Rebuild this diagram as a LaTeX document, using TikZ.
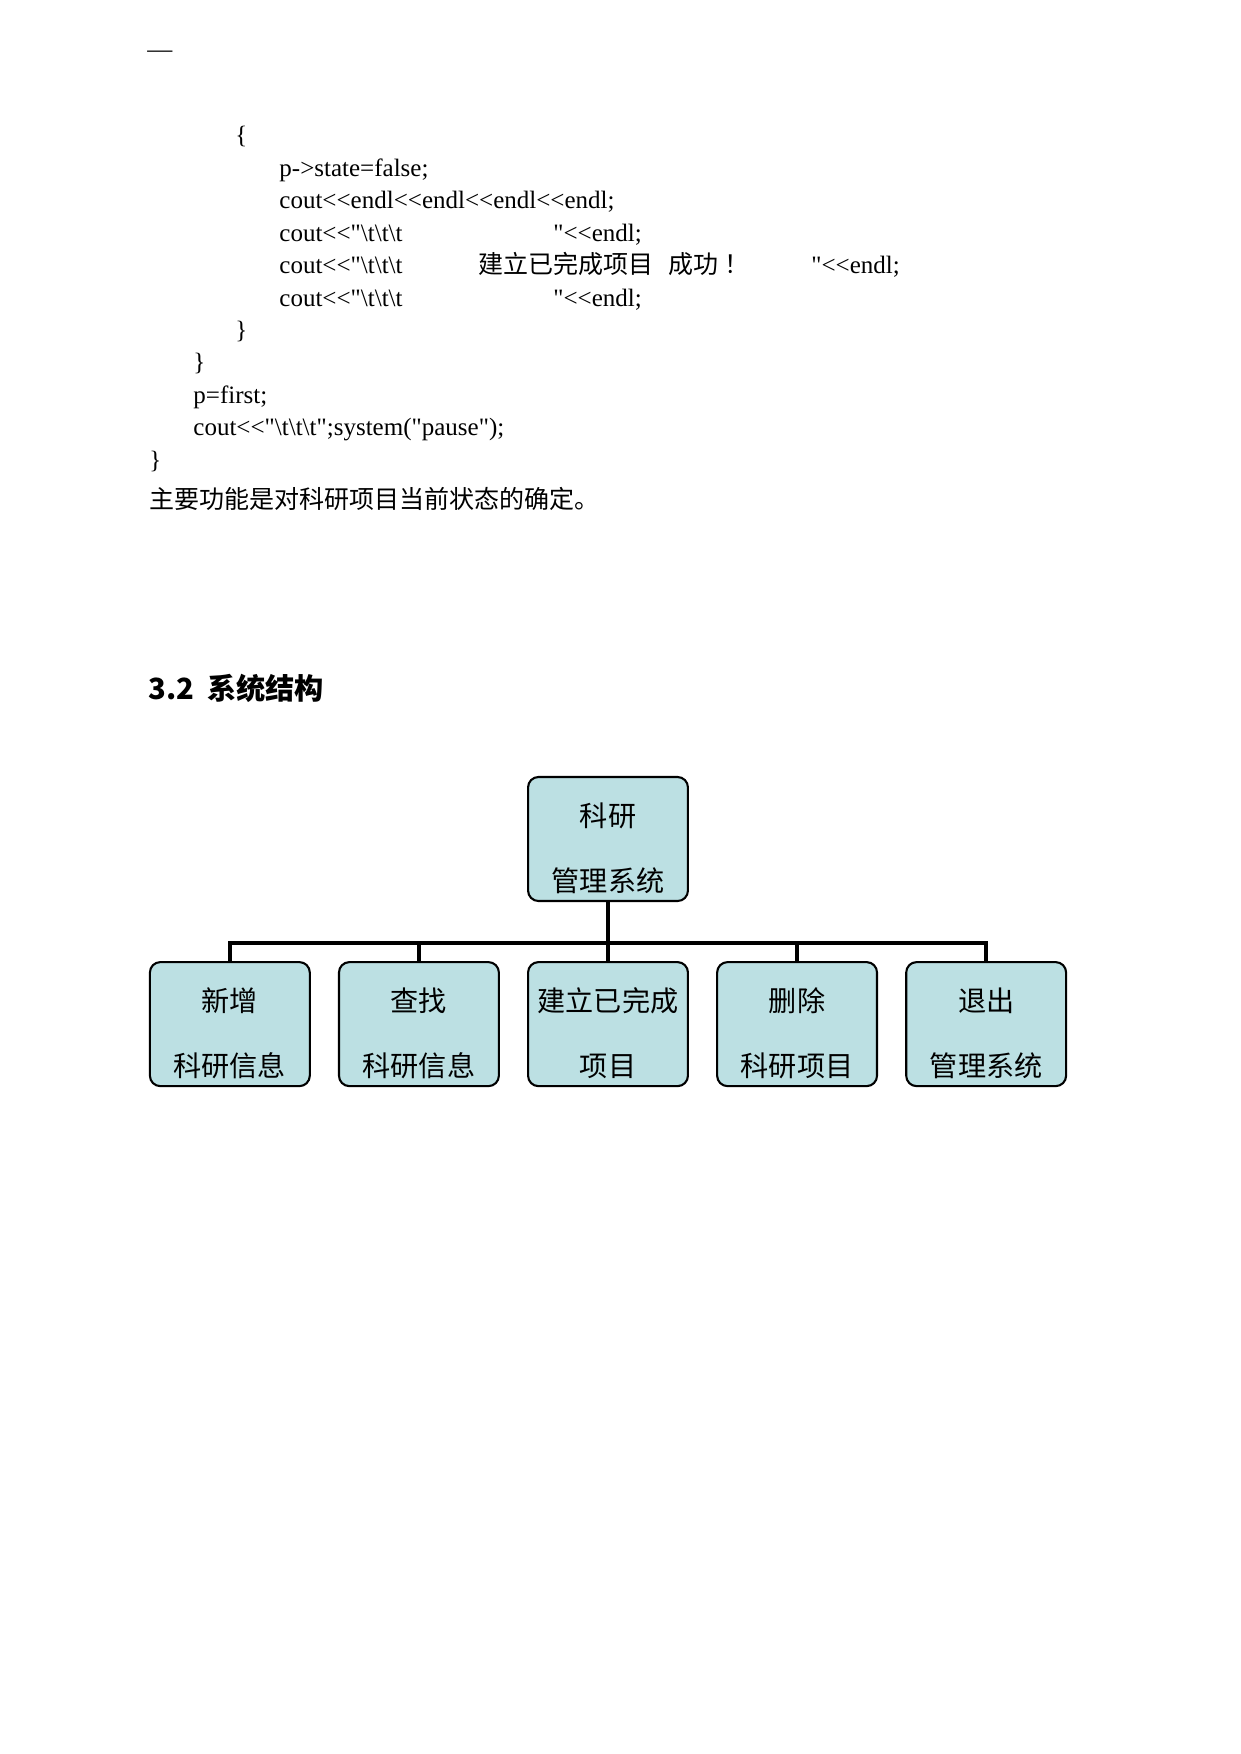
\documentclass[tikz,border=0pt]{standalone}
\usepackage{fontspec}
\setmainfont{Liberation Serif}[Ligatures=TeXOff]
\newfontfamily\cjk{Noto Sans CJK SC}
\usetikzlibrary{positioning}
\definecolor{boxfill}{RGB}{188,224,227}
\tikzset{
  orgnode/.style= {
    rectangle,
    rounded corners=5pt,
    draw = black,
    fill = boxfill,
    line width = 1pt,
    minimum width = 76.7pt,
    minimum height = 59.5pt,
    inner xsep = 2pt,
    inner ysep = 0pt,
    align = center,
    text height = 52pt,
    text depth = 2pt,
    font = \cjk\fontsize{13.5pt}{31pt}\selectfont
  },
  codeline/.style= {
    anchor = base west,
    inner sep = 0pt,
    font = \fontsize{12pt}{14pt}\selectfont
  },
  cjkline/.style= {
    codeline,
    font = \cjk\fontsize{12pt}{14pt}\selectfont
  },
  heading/.style= {
    anchor = base west,
    inner sep = 0pt,
    font = \cjk\bfseries\fontsize{14pt}{17pt}\selectfont
  },
  bus/.style= {
    line width = 2pt
  }
}
\newcommand{\tabs}{\textbackslash t\textbackslash t\textbackslash t}

\begin{document}
\begin{tikzpicture}[x=0.4797pt,y=-0.4797pt]
  \useasboundingbox (0,0) rectangle (1241,1754);

  \node[codeline] (dash) at (147,57.5) {—};
  \node[codeline] (open) at (235,144) {\{};
  \node[codeline] (state) at (279,176.4) {p->state=false;};
  \node[codeline] (endls) at (279,208.8) {cout<<endl<<endl<<endl<<endl;};
  \node[codeline] (outa) at (279,241.2) {cout<<"\tabs};
  \node[codeline] (enda) at (553,241.2) {"<<endl;};
  \node[codeline] (outb) at (279,273.6) {cout<<"\tabs};
  \node[cjkline] (msg) at (478,273.6) {建立已完成项目};
  \node[cjkline] (ok) at (668,273.6) {成功};
  \node[cjkline] (bang) at (724,273.6) {！};
  \node[codeline] (endb) at (811,273.6) {"<<endl;};
  \node[codeline] (outc) at (279,306) {cout<<"\tabs};
  \node[codeline] (endc) at (553,306) {"<<endl;};
  \node[codeline] (closea) at (235,338.4) {\}};
  \node[codeline] (closeb) at (193,370.8) {\}};
  \node[codeline] (first) at (193,403.2) {p=first;};
  \node[codeline] (pause) at (193,435.6) {cout<<"\tabs";system("pause");};
  \node[codeline] (closec) at (149,468) {\}};
  \node[cjkline] (note) at (149,508) {主要功能是对科研项目当前状态的确定。};

  \node[heading] (sec) at (148,699) {3.2\hspace{0.45em}系统结构};

  \node[orgnode] (root) at (608,839) {科研\\管理系统};
  \node[orgnode,below=28.3pt of root] (done) {建立已完成\\项目};
  \node[orgnode,left=13pt of done] (find) {查找\\科研信息};
  \node[orgnode,left=13pt of find] (add) {新增\\科研信息};
  \node[orgnode,right=13pt of done] (del) {删除\\科研项目};
  \node[orgnode,right=13pt of del] (quit) {退出\\管理系统};

  \foreach \c in {add,find,done,del,quit}
    \draw[bus] (root.south) -- ++(0,41) -| (\c.north);
\end{tikzpicture}
\end{document}
